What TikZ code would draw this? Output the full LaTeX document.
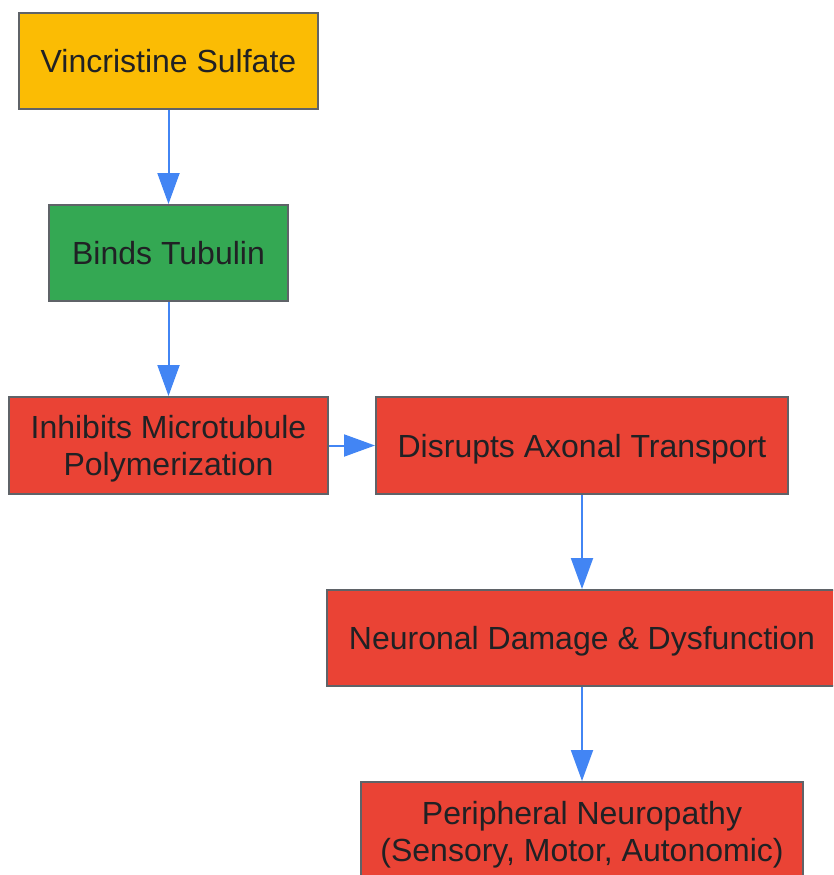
\documentclass[tikz,border=0pt]{standalone}
\usepackage{fontspec}
\setmainfont{Liberation Sans}
\usetikzlibrary{arrows.meta}
\definecolor{gyellow}{HTML}{FBBC04}
\definecolor{ggreen}{HTML}{34A853}
\definecolor{gred}{HTML}{EA4335}
\definecolor{gborder}{HTML}{5F6368}
\definecolor{gblue}{HTML}{4285F4}
\definecolor{gtext}{HTML}{202124}
\tikzset{
  box/.style={draw=gborder, line width=2pt, rectangle, align=center, text=gtext,
    font=\fontsize{32}{37}\selectfont, inner sep=0pt, text depth=0pt, text height=23pt},
  twoline/.style={text height=60pt, text depth=0pt},
  flow/.style={draw=gblue, line width=2pt, -{Triangle[width=22pt,length=31pt]}, gblue}
}
\begin{document}
\begin{tikzpicture}[x=1pt,y=-1pt]
\useasboundingbox (0,0) rectangle (833,875);
\clip (0,0) rectangle (833,875);
\node[box, fill=gyellow, minimum width=299pt, minimum height=96pt] (a) at (168.5,61) {Vincristine Sulfate};
\node[box, fill=ggreen, minimum width=239pt, minimum height=96pt] (b) at (168.5,253) {Binds Tubulin};
\node[box, twoline, fill=gred, minimum width=319pt, minimum height=97pt] (c) at (168.5,445.5) {Inhibits Microtubule\\Polymerization};
\node[box, fill=gred, minimum width=412pt, minimum height=97pt] (d) at (582,445.5) {Disrupts Axonal Transport};
\node[box, fill=gred, minimum width=510pt, minimum height=96pt] (e) at (582,638) {Neuronal Damage \& Dysfunction};
\node[box, twoline, fill=gred, minimum width=442pt, minimum height=99pt] (f) at (582,831.5) {Peripheral Neuropathy\\(Sensory, Motor, Autonomic)};
\draw[flow] (a) -- (b);
\draw[flow] (b) -- (c);
\draw[flow] (c) -- (d);
\draw[flow] (d) -- (e);
\draw[flow] (e) -- (f);
\end{tikzpicture}
\end{document}
